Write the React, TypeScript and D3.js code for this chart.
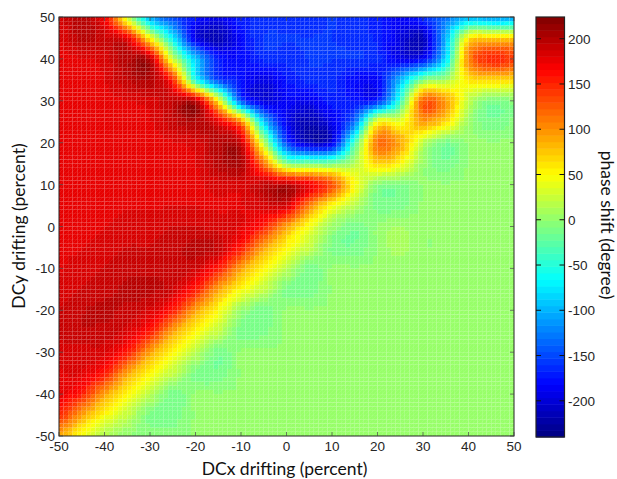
import React from "react";
import * as d3 from "d3";

const W = 617, H = 479;
const xTicks = [-50, -40, -30, -20, -10, 0, 10, 20, 30, 40, 50];
const yTicks = [-50, -40, -30, -20, -10, 0, 10, 20, 30, 40, 50];
const cTicks = [-200, -150, -100, -50, 0, 50, 100, 150, 200];
const cDomain: [number, number] = [-240, 224];

// x = -50 ... 50, step 5
const rowP50 = [184,198,168,30,-100,-150,-175,-190,-170,-165,-165,-165,-160,-165,-170,-185,-165,-130,-100,-110,-110];
const rowP45 = [180,198,190,174,50,-70,-190,-215,-180,-160,-160,-160,-160,-165,-170,-195,-210,-100,55,70,70];
const rowP40 = [178,180,184,200,195,30,-90,-170,-180,-165,-165,-160,-160,-160,-165,-190,-180,-80,105,150,140];
const rowP35 = [178,178,180,195,200,148,-50,-150,-175,-195,-175,-165,-165,-180,-180,-100,-10,10,60,70,65];
const rowP30 = [178,178,178,180,184,192,194,55,-140,-195,-185,-190,-170,-175,-165,-45,120,95,22,-10,-3];
const rowP25 = [178,178,178,178,180,192,202,176,105,-90,-185,-215,-190,-130,45,40,95,65,6,-14,-6];
const rowP20 = [178,178,178,178,178,180,184,198,188,20,-150,-205,-190,-35,112,90,20,-12,0,0,0];
const rowP15 = [178,178,178,178,178,178,180,198,202,115,0,-10,-10,15,70,50,3,-13,0,0,0];
const rowP10 = [178,178,178,178,178,178,178,184,184,192,196,172,130,50,-3,-8,0,0,0,0,0];
const rowP05 = [178,178,178,180,180,180,180,180,180,184,184,110,50,15,-10,-10,0,0,0,0,0];
const rowZ00 = [178,178,180,184,184,188,188,184,180,152,95,45,5,-13,0,7,0,0,0,0,0];
const rowM05 = [180,180,184,188,188,192,197,192,156,95,50,22,-10,-14,0,10,0,0,0,0,0];
const rowM10 = [180,184,188,192,192,192,188,156,95,50,20,-12,0,0,0,0,0,0,0,0,0];
const rowM15 = [184,188,192,197,197,188,156,95,50,22,-10,-13,0,0,0,0,0,0,0,0,0];
const rowM20 = [188,194,197,192,184,156,95,50,5,-13,0,0,0,0,0,0,0,0,0,0,0];
const rowM25 = [190,194,192,184,156,95,50,22,-12,-10,0,0,0,0,0,0,0,0,0,0,0];
const rowM30 = [184,184,182,156,95,50,20,-12,0,0,0,0,0,0,0,0,0,0,0,0,0];
const rowM35 = [180,180,156,95,50,22,-10,-14,0,0,0,0,0,0,0,0,0,0,0,0,0];
const rowM40 = [178,152,95,50,20,-12,0,0,0,0,0,0,0,0,0,0,0,0,0,0,0];
const rowM45 = [148,95,50,22,-10,-13,0,0,0,0,0,0,0,0,0,0,0,0,0,0,0];
const rowM50 = [90,45,15,0,-4,-4,0,0,0,0,0,0,0,0,0,0,0,0,0,0,0];
const rows = [rowP50,rowP45,rowP40,rowP35,rowP30,rowP25,rowP20,rowP15,rowP10,rowP05,rowZ00,rowM05,rowM10,rowM15,rowM20,rowM25,rowM30,rowM35,rowM40,rowM45,rowM50];

const plot = { l: 59, r: 514, t: 17, b: 436 };
const bar = { l: 536, r: 564.5, t: 17, b: 437 };
const xS = d3.scaleLinear().domain([-50, 50]).range([plot.l, plot.r]);
const yS = d3.scaleLinear().domain([-50, 50]).range([plot.b, plot.t]);
const cS = d3.scaleLinear().domain(cDomain).range([bar.b, bar.t]);

function jet(t: number) {
  const f = (c: number) => Math.round(255 * Math.max(0, Math.min(1, 1.5 - Math.abs(4 * t - c))));
  return `rgb(${f(3)},${f(2)},${f(1)})`;
}
const levels = d3.range(64).map((i) => jet((i + 0.5) / 64));
const colorOf = d3.scaleQuantize<string>().domain(cDomain).range(levels);

function cr(a: number, b: number, c: number, d: number, t: number) {
  return 0.5 * (2 * b + (c - a) * t + (2 * a - 5 * b + 4 * c - d) * t * t + (3 * b - a - 3 * c + d) * t * t * t);
}
function sample(x: number, y: number) {
  const fx = (x + 50) / 5, fy = (50 - y) / 5;
  const i = Math.min(19, Math.floor(fx)), j = Math.min(19, Math.floor(fy));
  const tx = fx - i, ty = fy - j;
  const cl = (k: number) => Math.max(0, Math.min(20, k));
  const v = [-1, 0, 1, 2].map((dj) => {
    const r = rows[cl(j + dj)];
    return cr(r[cl(i - 1)], r[cl(i)], r[cl(i + 1)], r[cl(i + 2)], tx);
  });
  return cr(v[0], v[1], v[2], v[3], ty);
}

const nCells = 100;
const step = 100 / nCells;
const cells = d3.range(nCells).flatMap((a) =>
  d3.range(nCells).map((b) => {
    const x0 = -50 + a * step, y0 = -50 + b * step;
    return { x0, y0, v: sample(x0 + step / 2, y0 + step / 2) };
  })
);

const tickFont = "'Liberation Sans', Arial, sans-serif";
const labelFont = "Lato, 'Noto Sans', sans-serif";
const tickColor = "#262626";

export default function App() {
  const cStep = (cDomain[1] - cDomain[0]) / 64;
  return (
    <svg width={W} height={H} style={{ position: "absolute", left: 0, top: 0, background: "#fff" }}>
      <defs>
        <pattern id="hatch" width="4" height="4" patternUnits="userSpaceOnUse">
          <path d="M0 4L4 0" stroke="#fff" strokeOpacity={0.1} strokeWidth={0.7} />
        </pattern>
      </defs>
      <g>
        {cells.map((c, i) => (
          <rect
            key={i}
            x={xS(c.x0)}
            y={yS(c.y0 + step)}
            width={xS(c.x0 + step) - xS(c.x0)}
            height={yS(c.y0) - yS(c.y0 + step)}
            fill={colorOf(c.v)}
          />
        ))}
      </g>
      <rect x={plot.l} y={plot.t} width={plot.r - plot.l} height={plot.b - plot.t} fill="url(#hatch)" />
      <rect x={plot.l} y={plot.t} width={plot.r - plot.l} height={plot.b - plot.t} fill="none" stroke="#222" strokeWidth={1} />
      {xTicks.map((t) => (
        <g key={t}>
          <line x1={xS(t)} x2={xS(t)} y1={plot.b} y2={plot.b - 4} stroke="#444" strokeWidth={0.7} />
          <line x1={xS(t)} x2={xS(t)} y1={plot.t} y2={plot.t + 4} stroke="#444" strokeWidth={0.7} />
          <text x={xS(t)} y={451} textAnchor="middle" fontFamily={tickFont} fontSize={13.5} fill={tickColor}>{t}</text>
        </g>
      ))}
      {yTicks.map((t) => (
        <g key={t}>
          <line x1={plot.l} x2={plot.l + 4} y1={yS(t)} y2={yS(t)} stroke="#444" strokeWidth={0.7} />
          <line x1={plot.r} x2={plot.r - 4} y1={yS(t)} y2={yS(t)} stroke="#444" strokeWidth={0.7} />
          <text x={55} y={yS(t) + 5} textAnchor="end" fontFamily={tickFont} fontSize={13.5} fill={tickColor}>{t}</text>
        </g>
      ))}
      <g>
        {levels.map((col, i) => {
          const lo = cDomain[0] + i * cStep;
          return <rect key={i} x={bar.l} y={cS(lo + cStep)} width={bar.r - bar.l} height={cS(lo) - cS(lo + cStep) + 0.5} fill={col} />;
        })}
      </g>
      <rect x={bar.l} y={bar.t} width={bar.r - bar.l} height={bar.b - bar.t} fill="none" stroke="#222" strokeWidth={1.2} />
      {cTicks.map((t) => (
        <g key={t}>
          <line x1={bar.l} x2={bar.l + 5} y1={cS(t)} y2={cS(t)} stroke="#111" strokeWidth={1} />
          <line x1={bar.r} x2={bar.r - 5} y1={cS(t)} y2={cS(t)} stroke="#111" strokeWidth={1} />
          <text x={568} y={cS(t) + 5} fontFamily={tickFont} fontSize={13.5} fill={tickColor}>{t}</text>
        </g>
      ))}
      <text x={284.5} y={475} textAnchor="middle" fontFamily={labelFont} fontSize={17.5} fill="#111">DCx drifting (percent)</text>
      <text transform="translate(25,226) rotate(-90)" textAnchor="middle" fontFamily={labelFont} fontSize={17.5} fill="#111">DCy drifting (percent)</text>
      <text transform="translate(601,225) rotate(90)" textAnchor="middle" fontFamily={labelFont} fontSize={17.5} fill="#111">phase shift (degree)</text>
    </svg>
  );
}
